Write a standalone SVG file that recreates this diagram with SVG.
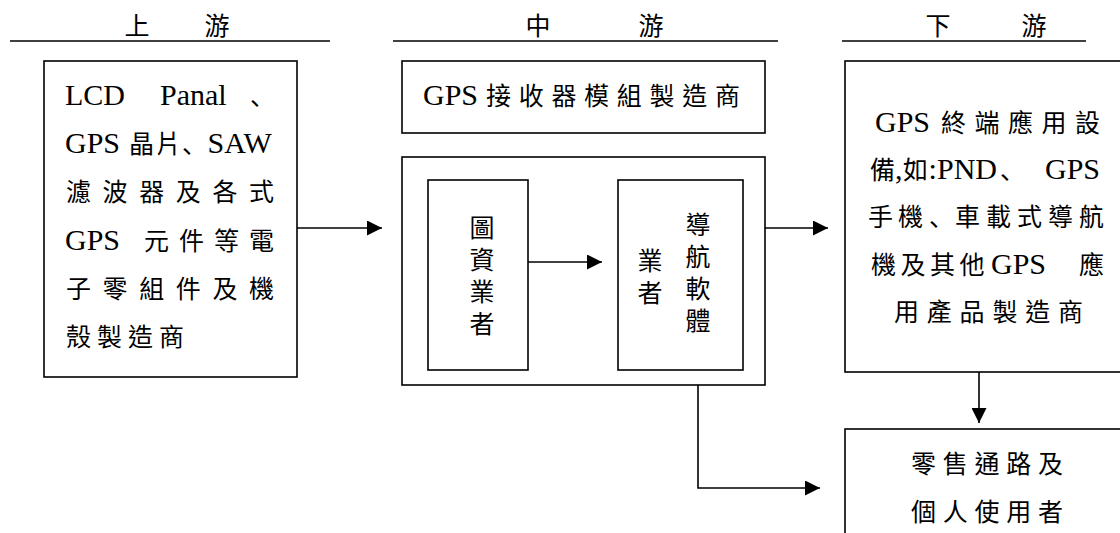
<svg xmlns="http://www.w3.org/2000/svg" width="1120" height="533" viewBox="0 0 1120 533">
<style>
.box{fill:none;stroke:#000;stroke-width:1.6}
.hl{stroke:#000;stroke-width:1.6}
.cn{fill:none;stroke:#000;stroke-width:1.6}
.l{font-family:"Liberation Serif","Times New Roman","DejaVu Serif",serif;font-size:30px;fill:#000}
.c{font-family:"Noto Sans CJK TC","Noto Sans CJK SC",sans-serif;font-size:25px;fill:#000}
.p{font-family:"Noto Sans CJK JP","Noto Sans CJK TC",sans-serif;font-size:25px;fill:#000}
.v{writing-mode:vertical-rl;letter-spacing:7px}
.m{text-anchor:middle}
</style>
<defs>
<marker id="arr" viewBox="0 0 15 15" refX="15" refY="7.5" markerWidth="15" markerHeight="15" markerUnits="userSpaceOnUse" orient="auto">
<path d="M0,0 L15,7.5 L0,15 z" fill="#000"/>
</marker>
</defs>
<rect width="1120" height="533" fill="#fff"/>

<g id="headers">
<line class="hl" x1="10" y1="41" x2="330" y2="41"/>
<text class="c m" x="137" y="35">上</text>
<text class="c m" x="217" y="35">游</text>
<line class="hl" x1="393" y1="41" x2="778" y2="41"/>
<text class="c m" x="538" y="35">中</text>
<text class="c m" x="651" y="35">游</text>
<line class="hl" x1="842" y1="41" x2="1086" y2="41"/>
<text class="c m" x="938" y="35">下</text>
<text class="c m" x="1034" y="35">游</text>
</g>

<g id="upstream">
<rect class="box" x="44" y="61" width="253" height="316"/>
<text y="105"><tspan class="l" x="65">LCD</tspan><tspan class="l" x="160">Panal</tspan><tspan class="p" x="250">、</tspan></text>
<text y="153"><tspan class="l" x="65">GPS</tspan><tspan class="c" x="129" letter-spacing="2">晶片</tspan><tspan class="p" x="182">、</tspan><tspan class="l" x="207.5">SAW</tspan></text>
<text class="c" x="66" y="201" textLength="208" lengthAdjust="spacing">濾波器及各式</text>
<text y="250"><tspan class="l" x="65">GPS</tspan><tspan class="c" x="144" letter-spacing="10">元件等電</tspan></text>
<text class="c" x="66" y="298" textLength="208" lengthAdjust="spacing">子零組件及機</text>
<text class="c" x="66" y="346" letter-spacing="6">殼製造商</text>
</g>

<g id="gps-module">
<rect class="box" x="402" y="61" width="363" height="72"/>
<text y="105"><tspan class="l" x="423">GPS</tspan><tspan class="c" x="486" letter-spacing="7.7">接收器模組製造商</tspan></text>
</g>

<g id="midstream">
<rect class="box" x="402" y="157" width="363" height="228"/>
</g>

<g id="map-data">
<rect class="box" x="428" y="180" width="100" height="190"/>
<text class="c v" x="482" y="215">圖資業者</text>
</g>

<g id="nav-software">
<rect class="box" x="618" y="180" width="125" height="190"/>
<text class="c v" x="698" y="212">導航軟體</text>
<text class="c v" x="650" y="248">業者</text>
</g>

<g id="downstream">
<rect class="box" x="845" y="61" width="290" height="311"/>
<text y="132"><tspan class="l" x="875">GPS</tspan><tspan class="c" x="941" letter-spacing="8.5">終端應用設</tspan></text>
<text y="179"><tspan class="c" x="870">備</tspan><tspan class="l" x="895">,</tspan><tspan class="c" x="903">如</tspan><tspan class="l" x="928.5">:</tspan><tspan class="l" x="937">PND</tspan><tspan class="p" x="1000">、</tspan><tspan class="l" x="1045">GPS</tspan></text>
<text y="226"><tspan class="c" x="868" letter-spacing="5">手機</tspan><tspan class="p" x="929">、</tspan><tspan class="c" x="955" letter-spacing="6">車載式導航</tspan></text>
<text y="274"><tspan class="c" x="871" letter-spacing="4.5">機及其他</tspan><tspan class="l" x="991">GPS</tspan><tspan class="c" x="1079">應</tspan></text>
<text class="c" x="894" y="321" textLength="189" lengthAdjust="spacing">用產品製造商</text>
</g>

<g id="retail">
<rect class="box" x="845" y="429" width="290" height="120"/>
<text class="c" x="911" y="473" textLength="152" lengthAdjust="spacing">零售通路及</text>
<text class="c" x="911" y="521" textLength="152" lengthAdjust="spacing">個人使用者</text>
</g>

<g id="connectors">
<path class="cn" d="M297,228 H382" marker-end="url(#arr)"/>
<path class="cn" d="M765,228 H828" marker-end="url(#arr)"/>
<path class="cn" d="M528,262 H602" marker-end="url(#arr)"/>
<path class="cn" d="M979,372 V423" marker-end="url(#arr)"/>
<path class="cn" d="M698,385 V488 H820" marker-end="url(#arr)"/>
</g>
</svg>
